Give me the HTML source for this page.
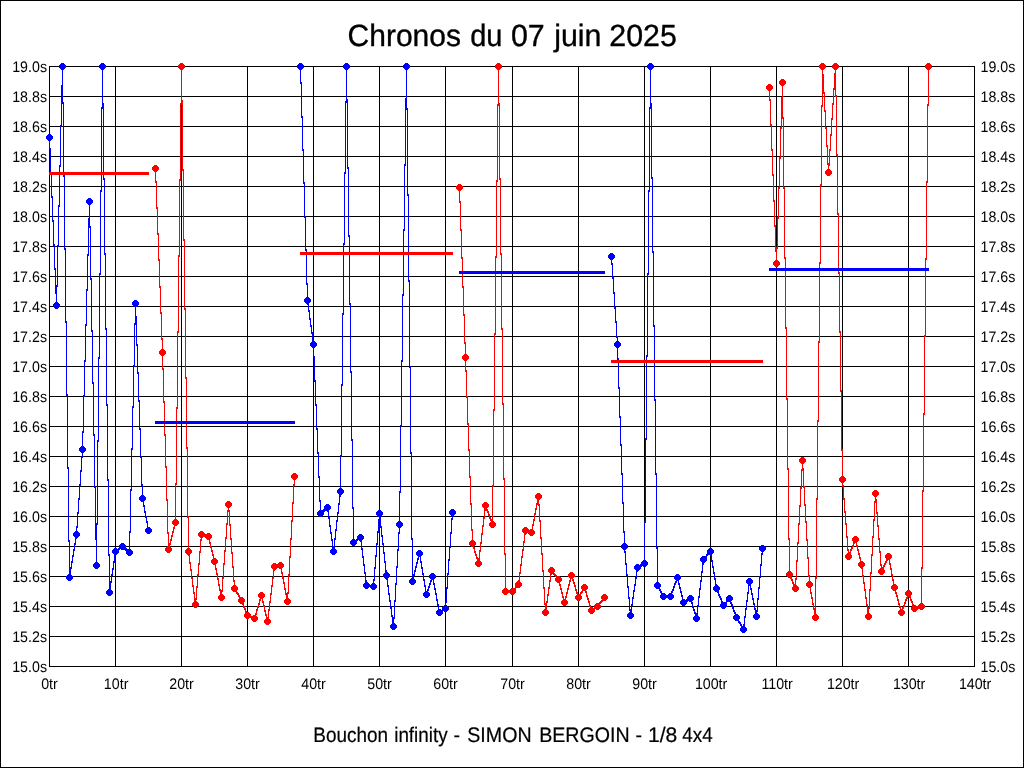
<!DOCTYPE html>
<html lang="fr">
<head>
<meta charset="utf-8">
<title>Chronos du 07 juin 2025</title>
<style>
html,body{margin:0;padding:0;background:#fff;}
body{width:1024px;height:768px;overflow:hidden;}
svg{display:block;position:absolute;left:0;top:0;}
text{font-family:"Liberation Sans",Arial,Helvetica,sans-serif;fill:#000;}
.t{font-size:30.67px;stroke:#000;stroke-width:0.35px;}
.c{font-size:21.0px;stroke:#000;stroke-width:0.2px;}
.a{font-size:15.3px;}
</style>
</head>
<body>
<svg width="1024" height="768" viewBox="0 0 1024 768" shape-rendering="crispEdges">
<rect x="0" y="0" width="1024" height="768" fill="#fff"/>
<path fill="#000" d="M0 0h1024v768h-1024zM1 1v766h1022v-766z" fill-rule="evenodd"/>
<path fill="#000" d="M49 66h926v1h-926zM49 96h926v1h-926zM49 126h926v1h-926zM49 156h926v1h-926zM49 186h926v1h-926zM49 216h926v1h-926zM49 246h926v1h-926zM49 276h926v1h-926zM49 306h926v1h-926zM49 336h926v1h-926zM49 366h926v1h-926zM49 396h926v1h-926zM49 426h926v1h-926zM49 456h926v1h-926zM49 486h926v1h-926zM49 516h926v1h-926zM49 546h926v1h-926zM49 576h926v1h-926zM49 606h926v1h-926zM49 636h926v1h-926zM49 666h926v1h-926zM49 66h1v601h-1zM115 66h1v601h-1zM181 66h1v601h-1zM247 66h1v601h-1zM313 66h1v601h-1zM379 66h1v601h-1zM445 66h1v601h-1zM512 66h1v601h-1zM578 66h1v601h-1zM644 66h1v601h-1zM710 66h1v601h-1zM776 66h1v601h-1zM842 66h1v601h-1zM908 66h1v601h-1zM974 66h1v601h-1z"/>
<path fill="#0000ff" d="M49 136v14h1v-14zM50 148v26h1v-26zM51 172v26h1v-26zM52 196v26h1v-26zM53 220v26h1v-26zM54 244v26h1v-26zM55 268v26h1v-26zM56 285v22h1v-22zM57 245v42h1v-42zM58 205v42h1v-42zM59 165v42h1v-42zM60 125v42h1v-42zM61 85v42h1v-42zM62 65v39h1v-39zM63 102v75h1v-75zM64 175v75h1v-75zM65 248v75h1v-75zM66 321v75h1v-75zM67 394v75h1v-75zM68 467v75h1v-75zM69 540v39h1v-39zM70 567v8h1v-8zM71 561v8h1v-8zM72 555v8h1v-8zM73 549v8h1v-8zM74 543v8h1v-8zM75 537v8h1v-8zM76 526v13h1v-13zM77 512v16h1v-16zM78 498v16h1v-16zM79 484v16h1v-16zM80 470v16h1v-16zM81 456v16h1v-16zM82 431v27h1v-27zM83 395v38h1v-38zM84 360v37h1v-37zM85 324v38h1v-38zM86 289v37h1v-37zM87 254v37h1v-37zM88 218v38h1v-38zM89 200v28h1v-28zM90 226v54h1v-54zM91 278v54h1v-54zM92 330v54h1v-54zM93 382v54h1v-54zM94 434v54h1v-54zM95 486v54h1v-54zM96 523v44h1v-44zM97 440v85h1v-85zM98 357v85h1v-85zM99 273v86h1v-86zM100 190v85h1v-85zM101 107v85h1v-85zM102 65v44h1v-44zM103 103v77h1v-77zM104 178v77h1v-77zM105 253v77h1v-77zM106 328v78h1v-78zM107 404v77h1v-77zM108 479v77h1v-77zM109 554v40h1v-40zM110 581v9h1v-9zM111 574v9h1v-9zM112 568v8h1v-8zM113 561v9h1v-9zM114 554v9h1v-9zM115 550v6h1v-6zM116 549v3h1v-3zM117 549v3h1v-3zM118 548v3h1v-3zM119 547v3h1v-3zM120 546v3h1v-3zM121 546v3h1v-3zM122 545v3h1v-3zM123 546v3h1v-3zM124 547v3h1v-3zM125 548v3h1v-3zM126 548v3h1v-3zM127 549v3h1v-3zM128 550v3h1v-3zM129 531v23h1v-23zM130 489v44h1v-44zM131 448v43h1v-43zM132 406v44h1v-44zM133 365v43h1v-43zM134 323v44h1v-44zM135 302v23h1v-23zM136 316v30h1v-30zM137 344v30h1v-30zM138 372v30h1v-30zM139 400v30h1v-30zM140 428v30h1v-30zM141 456v30h1v-30zM142 484v18h1v-18zM143 500v7h1v-7zM144 505v8h1v-8zM145 511v7h1v-7zM146 516v7h1v-7zM147 521v8h1v-8zM148 527v5h1v-5z"/>
<path fill="#ff0000" d="M155 167v16h1v-16zM156 181v28h1v-28zM157 207v28h1v-28zM158 233v28h1v-28zM159 259v29h1v-29zM160 286v28h1v-28zM161 312v28h1v-28zM162 338v32h1v-32zM163 368v35h1v-35zM164 401v35h1v-35zM165 434v34h1v-34zM166 466v35h1v-35zM167 499v35h1v-35zM168 532v19h1v-19zM169 543v6h1v-6zM170 539v6h1v-6zM171 535v6h1v-6zM172 531v6h1v-6zM173 527v6h1v-6zM174 523v6h1v-6zM175 483v42h1v-42zM176 407v78h1v-78zM177 331v78h1v-78zM178 255v78h1v-78zM179 179v78h1v-78zM180 103v78h1v-78zM181 65v40h1v-40zM182 100v71h1v-71zM183 169v72h1v-72zM184 239v71h1v-71zM185 308v71h1v-71zM186 377v72h1v-72zM187 447v71h1v-71zM188 516v40h1v-40zM189 554v10h1v-10zM190 562v9h1v-9zM191 569v10h1v-10zM192 577v10h1v-10zM193 585v9h1v-9zM194 592v10h1v-10zM195 598v8h1v-8zM196 586v14h1v-14zM197 574v14h1v-14zM198 563v13h1v-13zM199 551v14h1v-14zM200 539v14h1v-14zM201 533v8h1v-8zM202 533v3h1v-3zM203 534v3h1v-3zM204 534v3h1v-3zM205 534v3h1v-3zM206 534v3h1v-3zM207 535v3h1v-3zM208 535v5h1v-5zM209 538v6h1v-6zM210 542v6h1v-6zM211 546v6h1v-6zM212 550v6h1v-6zM213 554v6h1v-6zM214 558v7h1v-7zM215 563v7h1v-7zM216 568v7h1v-7zM217 573v7h1v-7zM218 578v8h1v-8zM219 584v7h1v-7zM220 589v7h1v-7zM221 590v9h1v-9zM222 577v15h1v-15zM223 563v16h1v-16zM224 550v15h1v-15zM225 537v15h1v-15zM226 523v16h1v-16zM227 510v15h1v-15zM228 503v9h1v-9zM229 510v16h1v-16zM230 524v16h1v-16zM231 538v16h1v-16zM232 552v16h1v-16zM233 566v16h1v-16zM234 580v10h1v-10zM235 588v4h1v-4zM236 590v4h1v-4zM237 592v3h1v-3zM238 593v4h1v-4zM239 595v4h1v-4zM240 597v4h1v-4zM241 599v4h1v-4zM242 601v4h1v-4zM243 603v5h1v-5zM244 606v4h1v-4zM245 608v5h1v-5zM246 611v4h1v-4zM247 613v4h1v-4zM248 614v3h1v-3zM249 615v3h1v-3zM250 615v3h1v-3zM251 616v3h1v-3zM252 616v3h1v-3zM253 617v3h1v-3zM254 616v4h1v-4zM255 613v5h1v-5zM256 609v6h1v-6zM257 606v5h1v-5zM258 603v5h1v-5zM259 599v6h1v-6zM260 596v5h1v-5zM261 594v5h1v-5zM262 597v6h1v-6zM263 601v6h1v-6zM264 605v7h1v-7zM265 610v6h1v-6zM266 614v6h1v-6zM267 617v6h1v-6zM268 609v10h1v-10zM269 601v10h1v-10zM270 593v10h1v-10zM271 585v10h1v-10zM272 577v10h1v-10zM273 569v10h1v-10zM274 565v6h1v-6zM275 565v3h1v-3zM276 565v3h1v-3zM277 564v3h1v-3zM278 564v3h1v-3zM279 564v3h1v-3zM280 564v5h1v-5zM281 567v7h1v-7zM282 572v7h1v-7zM283 577v7h1v-7zM284 582v8h1v-8zM285 588v7h1v-7zM286 593v7h1v-7zM287 592v11h1v-11zM288 574v20h1v-20zM289 556v20h1v-20zM290 538v20h1v-20zM291 520v20h1v-20zM292 502v20h1v-20zM293 484v20h1v-20zM294 475v11h1v-11z"/>
<path fill="#0000ff" d="M300 65v19h1v-19zM301 82v36h1v-36zM302 116v35h1v-35zM303 149v35h1v-35zM304 182v36h1v-36zM305 216v35h1v-35zM306 249v36h1v-36zM307 283v22h1v-22zM308 303v9h1v-9zM309 310v10h1v-10zM310 318v9h1v-9zM311 325v9h1v-9zM312 332v10h1v-10zM313 340v18h1v-18zM314 356v26h1v-26zM315 380v26h1v-26zM316 404v26h1v-26zM317 428v26h1v-26zM318 452v26h1v-26zM319 476v26h1v-26zM320 500v15h1v-15zM321 511v3h1v-3zM322 510v3h1v-3zM323 509v3h1v-3zM324 509v3h1v-3zM325 508v3h1v-3zM326 507v3h1v-3zM327 506v6h1v-6zM328 510v9h1v-9zM329 517v10h1v-10zM330 525v9h1v-9zM331 532v9h1v-9zM332 539v10h1v-10zM333 546v7h1v-7zM334 538v10h1v-10zM335 529v11h1v-11zM336 520v11h1v-11zM337 512v10h1v-10zM338 503v11h1v-11zM339 495v10h1v-10zM340 455v42h1v-42zM341 384v73h1v-73zM342 313v73h1v-73zM343 243v72h1v-72zM344 172v73h1v-73zM345 101v73h1v-73zM346 65v38h1v-38zM347 99v70h1v-70zM348 167v70h1v-70zM349 235v70h1v-70zM350 303v70h1v-70zM351 371v70h1v-70zM352 439v70h1v-70zM353 507v37h1v-37zM354 540v3h1v-3zM355 540v3h1v-3zM356 539v3h1v-3zM357 538v3h1v-3zM358 537v3h1v-3zM359 537v3h1v-3zM360 536v6h1v-6zM361 540v10h1v-10zM362 548v10h1v-10zM363 556v10h1v-10zM364 564v10h1v-10zM365 572v10h1v-10zM366 580v7h1v-7zM367 584v3h1v-3zM368 584v3h1v-3zM369 584v3h1v-3zM370 585v3h1v-3zM371 585v3h1v-3zM372 585v3h1v-3zM373 579v9h1v-9zM374 567v14h1v-14zM375 555v14h1v-14zM376 543v14h1v-14zM377 531v14h1v-14zM378 519v14h1v-14zM379 512v9h1v-9zM380 517v11h1v-11zM381 526v11h1v-11zM382 535v10h1v-10zM383 543v11h1v-11zM384 552v11h1v-11zM385 561v11h1v-11zM386 570v10h1v-10zM387 578v9h1v-9zM388 585v10h1v-10zM389 593v9h1v-9zM390 600v9h1v-9zM391 607v10h1v-10zM392 615v9h1v-9zM393 617v11h1v-11zM394 600v19h1v-19zM395 583v19h1v-19zM396 566v19h1v-19zM397 549v19h1v-19zM398 532v19h1v-19zM399 491v43h1v-43zM400 425v68h1v-68zM401 360v67h1v-67zM402 294v68h1v-68zM403 229v67h1v-67zM404 164v67h1v-67zM405 98v68h1v-68zM406 65v45h1v-45zM407 108v88h1v-88zM408 194v88h1v-88zM409 280v88h1v-88zM410 366v88h1v-88zM411 452v88h1v-88zM412 538v45h1v-45zM413 574v6h1v-6zM414 570v6h1v-6zM415 566v6h1v-6zM416 562v6h1v-6zM417 558v6h1v-6zM418 554v6h1v-6zM419 552v5h1v-5zM420 555v8h1v-8zM421 561v8h1v-8zM422 567v8h1v-8zM423 573v8h1v-8zM424 579v8h1v-8zM425 585v8h1v-8zM426 591v5h1v-5zM427 589v5h1v-5zM428 586v5h1v-5zM429 583v5h1v-5zM430 580v5h1v-5zM431 577v5h1v-5zM432 575v5h1v-5zM433 578v7h1v-7zM434 583v7h1v-7zM435 588v7h1v-7zM436 593v8h1v-8zM437 599v7h1v-7zM438 604v7h1v-7zM439 609v5h1v-5zM440 610v3h1v-3zM441 610v3h1v-3zM442 609v3h1v-3zM443 608v3h1v-3zM444 608v3h1v-3zM445 601v9h1v-9zM446 587v16h1v-16zM447 573v16h1v-16zM448 559v16h1v-16zM449 546v15h1v-15zM450 532v16h1v-16zM451 518v16h1v-16zM452 511v9h1v-9z"/>
<path fill="#ff0000" d="M459 186v17h1v-17zM460 201v30h1v-30zM461 229v30h1v-30zM462 257v31h1v-31zM463 286v30h1v-30zM464 314v30h1v-30zM465 342v30h1v-30zM466 370v28h1v-28zM467 396v29h1v-29zM468 423v28h1v-28zM469 449v29h1v-29zM470 476v29h1v-29zM471 503v28h1v-28zM472 529v17h1v-17zM473 544v5h1v-5zM474 547v6h1v-6zM475 551v5h1v-5zM476 554v5h1v-5zM477 557v6h1v-6zM478 558v7h1v-7zM479 550v10h1v-10zM480 542v10h1v-10zM481 533v11h1v-11zM482 525v10h1v-10zM483 517v10h1v-10zM484 509v10h1v-10zM485 504v7h1v-7zM486 506v5h1v-5zM487 509v4h1v-4zM488 511v5h1v-5zM489 514v5h1v-5zM490 517v4h1v-4zM491 519v5h1v-5zM492 485v41h1v-41zM493 409v78h1v-78zM494 333v78h1v-78zM495 256v79h1v-79zM496 180v78h1v-78zM497 104v78h1v-78zM498 65v41h1v-41zM499 103v77h1v-77zM500 178v77h1v-77zM501 253v77h1v-77zM502 328v77h1v-77zM503 403v77h1v-77zM504 478v77h1v-77zM505 553v40h1v-40zM506 590v3h1v-3zM507 590v3h1v-3zM508 590v3h1v-3zM509 590v3h1v-3zM510 590v3h1v-3zM511 590v3h1v-3zM512 590v3h1v-3zM513 589v3h1v-3zM514 588v3h1v-3zM515 586v4h1v-4zM516 585v3h1v-3zM517 584v3h1v-3zM518 580v6h1v-6zM519 572v10h1v-10zM520 564v10h1v-10zM521 556v10h1v-10zM522 549v9h1v-9zM523 541v10h1v-10zM524 533v10h1v-10zM525 529v6h1v-6zM526 529v3h1v-3zM527 530v3h1v-3zM528 530v3h1v-3zM529 530v3h1v-3zM530 531v3h1v-3zM531 529v5h1v-5zM532 524v7h1v-7zM533 519v7h1v-7zM534 513v8h1v-8zM535 508v7h1v-7zM536 503v7h1v-7zM537 498v7h1v-7zM538 495v11h1v-11zM539 504v18h1v-18zM540 520v19h1v-19zM541 537v18h1v-18zM542 553v19h1v-19zM543 570v19h1v-19zM544 587v18h1v-18zM545 603v11h1v-11zM546 601v9h1v-9zM547 594v9h1v-9zM548 587v9h1v-9zM549 580v9h1v-9zM550 573v9h1v-9zM551 569v6h1v-6zM552 570v3h1v-3zM553 571v4h1v-4zM554 573v3h1v-3zM555 574v3h1v-3zM556 575v4h1v-4zM557 577v3h1v-3zM558 578v4h1v-4zM559 580v6h1v-6zM560 584v6h1v-6zM561 588v6h1v-6zM562 592v6h1v-6zM563 596v6h1v-6zM564 600v4h1v-4zM565 596v6h1v-6zM566 592v6h1v-6zM567 588v6h1v-6zM568 584v6h1v-6zM569 580v6h1v-6zM570 576v6h1v-6zM571 574v4h1v-4zM572 576v5h1v-5zM573 579v5h1v-5zM574 582v5h1v-5zM575 585v6h1v-6zM576 589v5h1v-5zM577 592v5h1v-5zM578 595v4h1v-4zM579 594v4h1v-4zM580 592v4h1v-4zM581 591v3h1v-3zM582 589v4h1v-4zM583 587v4h1v-4zM584 586v4h1v-4zM585 588v5h1v-5zM586 591v6h1v-6zM587 595v5h1v-5zM588 598v5h1v-5zM589 601v6h1v-6zM590 605v5h1v-5zM591 608v4h1v-4zM592 608v3h1v-3zM593 608v3h1v-3zM594 607v3h1v-3zM595 606v3h1v-3zM596 606v3h1v-3zM597 605v3h1v-3zM598 604v3h1v-3zM599 602v4h1v-4zM600 601v3h1v-3zM601 600v3h1v-3zM602 598v4h1v-4zM603 597v3h1v-3zM604 596v3h1v-3z"/>
<path fill="#0000ff" d="M611 255v10h1v-10zM612 263v16h1v-16zM613 277v17h1v-17zM614 292v17h1v-17zM615 307v16h1v-16zM616 321v17h1v-17zM617 336v24h1v-24zM618 358v31h1v-31zM619 387v31h1v-31zM620 416v30h1v-30zM621 444v31h1v-31zM622 473v31h1v-31zM623 502v31h1v-31zM624 531v22h1v-22zM625 551v14h1v-14zM626 563v13h1v-13zM627 574v14h1v-14zM628 586v13h1v-13zM629 597v14h1v-14zM630 609v8h1v-8zM631 604v9h1v-9zM632 597v9h1v-9zM633 590v9h1v-9zM634 584v8h1v-8zM635 577v9h1v-9zM636 570v9h1v-9zM637 566v6h1v-6zM638 565v3h1v-3zM639 565v3h1v-3zM640 564v3h1v-3zM641 564v3h1v-3zM642 563v3h1v-3zM643 563v3h1v-3zM644 521v44h1v-44zM645 438v85h1v-85zM646 355v85h1v-85zM647 273v84h1v-84zM648 190v85h1v-85zM649 107v85h1v-85zM650 65v44h1v-44zM651 103v76h1v-76zM652 177v76h1v-76zM653 251v76h1v-76zM654 325v76h1v-76zM655 399v76h1v-76zM656 473v76h1v-76zM657 547v40h1v-40zM658 585v4h1v-4zM659 587v4h1v-4zM660 589v4h1v-4zM661 591v4h1v-4zM662 593v4h1v-4zM663 595v3h1v-3zM664 595v3h1v-3zM665 595v3h1v-3zM666 595v3h1v-3zM667 595v3h1v-3zM668 595v3h1v-3zM669 595v3h1v-3zM670 594v4h1v-4zM671 591v5h1v-5zM672 589v4h1v-4zM673 586v5h1v-5zM674 583v5h1v-5zM675 581v4h1v-4zM676 578v5h1v-5zM677 576v5h1v-5zM678 579v6h1v-6zM679 583v6h1v-6zM680 587v6h1v-6zM681 591v6h1v-6zM682 595v6h1v-6zM683 599v5h1v-5zM684 600v3h1v-3zM685 600v3h1v-3zM686 599v3h1v-3zM687 599v3h1v-3zM688 598v3h1v-3zM689 598v3h1v-3zM690 597v4h1v-4zM691 599v5h1v-5zM692 602v6h1v-6zM693 606v5h1v-5zM694 609v5h1v-5zM695 612v6h1v-6zM696 613v7h1v-7zM697 605v10h1v-10zM698 596v11h1v-11zM699 588v10h1v-10zM700 580v10h1v-10zM701 571v11h1v-11zM702 563v10h1v-10zM703 558v7h1v-7zM704 557v3h1v-3zM705 556v3h1v-3zM706 554v4h1v-4zM707 553v3h1v-3zM708 552v3h1v-3zM709 551v3h1v-3zM710 550v6h1v-6zM711 554v8h1v-8zM712 560v8h1v-8zM713 566v8h1v-8zM714 572v8h1v-8zM715 578v8h1v-8zM716 584v7h1v-7zM717 589v4h1v-4zM718 591v5h1v-5zM719 594v4h1v-4zM720 596v4h1v-4zM721 598v5h1v-5zM722 601v4h1v-4zM723 603v4h1v-4zM724 603v3h1v-3zM725 602v3h1v-3zM726 600v4h1v-4zM727 599v3h1v-3zM728 598v3h1v-3zM729 597v4h1v-4zM730 599v5h1v-5zM731 602v4h1v-4zM732 604v5h1v-5zM733 607v5h1v-5zM734 610v4h1v-4zM735 612v5h1v-5zM736 615v4h1v-4zM737 617v4h1v-4zM738 619v4h1v-4zM739 621v3h1v-3zM740 622v4h1v-4zM741 624v4h1v-4zM742 626v4h1v-4zM743 624v7h1v-7zM744 616v10h1v-10zM745 608v10h1v-10zM746 600v10h1v-10zM747 592v10h1v-10zM748 584v10h1v-10zM749 580v6h1v-6zM750 583v7h1v-7zM751 588v7h1v-7zM752 593v7h1v-7zM753 598v7h1v-7zM754 603v7h1v-7zM755 608v7h1v-7zM756 610v8h1v-8zM757 598v14h1v-14zM758 587v13h1v-13zM759 576v13h1v-13zM760 564v14h1v-14zM761 553v13h1v-13zM762 547v8h1v-8z"/>
<path fill="#ff0000" d="M769 86v15h1v-15zM770 99v27h1v-27zM771 124v27h1v-27zM772 149v27h1v-27zM773 174v28h1v-28zM774 200v27h1v-27zM775 225v27h1v-27zM776 247v18h1v-18zM777 217v32h1v-32zM778 187v32h1v-32zM779 157v32h1v-32zM780 127v32h1v-32zM781 97v32h1v-32zM782 81v38h1v-38zM783 117v72h1v-72zM784 187v72h1v-72zM785 257v72h1v-72zM786 327v73h1v-73zM787 398v72h1v-72zM788 468v72h1v-72zM789 538v39h1v-39zM790 575v4h1v-4zM791 577v4h1v-4zM792 579v5h1v-5zM793 582v4h1v-4zM794 584v4h1v-4zM795 578v12h1v-12zM796 560v20h1v-20zM797 542v20h1v-20zM798 523v21h1v-21zM799 505v20h1v-20zM800 487v20h1v-20zM801 469v20h1v-20zM802 459v12h1v-12zM803 468v20h1v-20zM804 486v20h1v-20zM805 504v19h1v-19zM806 521v20h1v-20zM807 539v20h1v-20zM808 557v20h1v-20zM809 575v13h1v-13zM810 586v8h1v-8zM811 592v7h1v-7zM812 597v8h1v-8zM813 603v7h1v-7zM814 608v8h1v-8zM815 577v42h1v-42zM816 498v81h1v-81zM817 420v80h1v-80zM818 341v81h1v-81zM819 262v81h1v-81zM820 184v80h1v-80zM821 105v81h1v-81zM822 65v42h1v-42zM823 74v20h1v-20zM824 92v20h1v-20zM825 110v19h1v-19zM826 127v20h1v-20zM827 145v20h1v-20zM828 163v11h1v-11zM829 149v17h1v-17zM830 134v17h1v-17zM831 118v18h1v-18zM832 103v17h1v-17zM833 88v17h1v-17zM834 73v17h1v-17zM835 65v32h1v-32zM836 95v61h1v-61zM837 154v61h1v-61zM838 213v61h1v-61zM839 272v61h1v-61zM840 331v61h1v-61zM841 390v61h1v-61zM842 449v38h1v-38zM843 485v15h1v-15zM844 498v15h1v-15zM845 511v14h1v-14zM846 523v15h1v-15zM847 536v15h1v-15zM848 549v9h1v-9zM849 552v4h1v-4zM850 549v5h1v-5zM851 547v4h1v-4zM852 545v4h1v-4zM853 542v5h1v-5zM854 540v4h1v-4zM855 538v5h1v-5zM856 541v6h1v-6zM857 545v6h1v-6zM858 549v6h1v-6zM859 553v6h1v-6zM860 557v6h1v-6zM861 561v8h1v-8zM862 567v10h1v-10zM863 575v9h1v-9zM864 582v9h1v-9zM865 589v10h1v-10zM866 597v9h1v-9zM867 604v10h1v-10zM868 607v11h1v-11zM869 589v20h1v-20zM870 572v19h1v-19zM871 554v20h1v-20zM872 536v20h1v-20zM873 519v19h1v-19zM874 501v20h1v-20zM875 492v11h1v-11zM876 499v15h1v-15zM877 512v15h1v-15zM878 525v15h1v-15zM879 538v15h1v-15zM880 551v15h1v-15zM881 564v9h1v-9zM882 567v4h1v-4zM883 565v4h1v-4zM884 563v4h1v-4zM885 561v4h1v-4zM886 559v4h1v-4zM887 557v4h1v-4zM888 555v5h1v-5zM889 558v7h1v-7zM890 563v7h1v-7zM891 568v8h1v-8zM892 574v7h1v-7zM893 579v7h1v-7zM894 584v6h1v-6zM895 588v6h1v-6zM896 592v5h1v-5zM897 595v6h1v-6zM898 599v6h1v-6zM899 603v5h1v-5zM900 606v6h1v-6zM901 610v4h1v-4zM902 607v5h1v-5zM903 605v4h1v-4zM904 602v5h1v-5zM905 599v5h1v-5zM906 597v4h1v-4zM907 594v5h1v-5zM908 592v4h1v-4zM909 594v4h1v-4zM910 596v5h1v-5zM911 599v4h1v-4zM912 601v5h1v-5zM913 604v4h1v-4zM914 606v4h1v-4zM915 607v3h1v-3zM916 606v3h1v-3zM917 606v3h1v-3zM918 606v3h1v-3zM919 606v3h1v-3zM920 605v3h1v-3zM921 567v41h1v-41zM922 490v79h1v-79zM923 413v79h1v-79zM924 335v80h1v-80zM925 258v79h1v-79zM926 181v79h1v-79zM927 104v79h1v-79zM928 65v41h1v-41z"/>
<path fill="#0000ff" d="M48 134h3v1h1v1h1v3h-1v1h-1v1h-3v-1h-1v-1h-1v-3h1v-1h1zM55 302h3v1h1v1h1v3h-1v1h-1v1h-3v-1h-1v-1h-1v-3h1v-1h1zM61 63h3v1h1v1h1v3h-1v1h-1v1h-3v-1h-1v-1h-1v-3h1v-1h1zM68 574h3v1h1v1h1v3h-1v1h-1v1h-3v-1h-1v-1h-1v-3h1v-1h1zM75 531h3v1h1v1h1v3h-1v1h-1v1h-3v-1h-1v-1h-1v-3h1v-1h1zM81 446h3v1h1v1h1v3h-1v1h-1v1h-3v-1h-1v-1h-1v-3h1v-1h1zM88 198h3v1h1v1h1v3h-1v1h-1v1h-3v-1h-1v-1h-1v-3h1v-1h1zM95 562h3v1h1v1h1v3h-1v1h-1v1h-3v-1h-1v-1h-1v-3h1v-1h1zM101 63h3v1h1v1h1v3h-1v1h-1v1h-3v-1h-1v-1h-1v-3h1v-1h1zM108 589h3v1h1v1h1v3h-1v1h-1v1h-3v-1h-1v-1h-1v-3h1v-1h1zM114 548h3v1h1v1h1v3h-1v1h-1v1h-3v-1h-1v-1h-1v-3h1v-1h1zM121 543h3v1h1v1h1v3h-1v1h-1v1h-3v-1h-1v-1h-1v-3h1v-1h1zM128 549h3v1h1v1h1v3h-1v1h-1v1h-3v-1h-1v-1h-1v-3h1v-1h1zM134 300h3v1h1v1h1v3h-1v1h-1v1h-3v-1h-1v-1h-1v-3h1v-1h1zM141 495h3v1h1v1h1v3h-1v1h-1v1h-3v-1h-1v-1h-1v-3h1v-1h1zM147 527h3v1h1v1h1v3h-1v1h-1v1h-3v-1h-1v-1h-1v-3h1v-1h1z"/>
<path fill="#ff0000" d="M154 165h3v1h1v1h1v3h-1v1h-1v1h-3v-1h-1v-1h-1v-3h1v-1h1zM161 349h3v1h1v1h1v3h-1v1h-1v1h-3v-1h-1v-1h-1v-3h1v-1h1zM167 546h3v1h1v1h1v3h-1v1h-1v1h-3v-1h-1v-1h-1v-3h1v-1h1zM174 519h3v1h1v1h1v3h-1v1h-1v1h-3v-1h-1v-1h-1v-3h1v-1h1zM180 63h3v1h1v1h1v3h-1v1h-1v1h-3v-1h-1v-1h-1v-3h1v-1h1zM187 548h3v1h1v1h1v3h-1v1h-1v1h-3v-1h-1v-1h-1v-3h1v-1h1zM194 601h3v1h1v1h1v3h-1v1h-1v1h-3v-1h-1v-1h-1v-3h1v-1h1zM200 531h3v1h1v1h1v3h-1v1h-1v1h-3v-1h-1v-1h-1v-3h1v-1h1zM207 533h3v1h1v1h1v3h-1v1h-1v1h-3v-1h-1v-1h-1v-3h1v-1h1zM213 558h3v1h1v1h1v3h-1v1h-1v1h-3v-1h-1v-1h-1v-3h1v-1h1zM220 594h3v1h1v1h1v3h-1v1h-1v1h-3v-1h-1v-1h-1v-3h1v-1h1zM227 501h3v1h1v1h1v3h-1v1h-1v1h-3v-1h-1v-1h-1v-3h1v-1h1zM233 585h3v1h1v1h1v3h-1v1h-1v1h-3v-1h-1v-1h-1v-3h1v-1h1zM240 597h3v1h1v1h1v3h-1v1h-1v1h-3v-1h-1v-1h-1v-3h1v-1h1zM246 612h3v1h1v1h1v3h-1v1h-1v1h-3v-1h-1v-1h-1v-3h1v-1h1zM253 615h3v1h1v1h1v3h-1v1h-1v1h-3v-1h-1v-1h-1v-3h1v-1h1zM260 592h3v1h1v1h1v3h-1v1h-1v1h-3v-1h-1v-1h-1v-3h1v-1h1zM266 618h3v1h1v1h1v3h-1v1h-1v1h-3v-1h-1v-1h-1v-3h1v-1h1zM273 563h3v1h1v1h1v3h-1v1h-1v1h-3v-1h-1v-1h-1v-3h1v-1h1zM279 562h3v1h1v1h1v3h-1v1h-1v1h-3v-1h-1v-1h-1v-3h1v-1h1zM286 598h3v1h1v1h1v3h-1v1h-1v1h-3v-1h-1v-1h-1v-3h1v-1h1zM293 473h3v1h1v1h1v3h-1v1h-1v1h-3v-1h-1v-1h-1v-3h1v-1h1z"/>
<path fill="#0000ff" d="M299 63h3v1h1v1h1v3h-1v1h-1v1h-3v-1h-1v-1h-1v-3h1v-1h1zM306 297h3v1h1v1h1v3h-1v1h-1v1h-3v-1h-1v-1h-1v-3h1v-1h1zM312 341h3v1h1v1h1v3h-1v1h-1v1h-3v-1h-1v-1h-1v-3h1v-1h1zM319 510h3v1h1v1h1v3h-1v1h-1v1h-3v-1h-1v-1h-1v-3h1v-1h1zM326 504h3v1h1v1h1v3h-1v1h-1v1h-3v-1h-1v-1h-1v-3h1v-1h1zM332 548h3v1h1v1h1v3h-1v1h-1v1h-3v-1h-1v-1h-1v-3h1v-1h1zM339 488h3v1h1v1h1v3h-1v1h-1v1h-3v-1h-1v-1h-1v-3h1v-1h1zM345 63h3v1h1v1h1v3h-1v1h-1v1h-3v-1h-1v-1h-1v-3h1v-1h1zM352 539h3v1h1v1h1v3h-1v1h-1v1h-3v-1h-1v-1h-1v-3h1v-1h1zM359 534h3v1h1v1h1v3h-1v1h-1v1h-3v-1h-1v-1h-1v-3h1v-1h1zM365 582h3v1h1v1h1v3h-1v1h-1v1h-3v-1h-1v-1h-1v-3h1v-1h1zM372 583h3v1h1v1h1v3h-1v1h-1v1h-3v-1h-1v-1h-1v-3h1v-1h1zM378 510h3v1h1v1h1v3h-1v1h-1v1h-3v-1h-1v-1h-1v-3h1v-1h1zM385 572h3v1h1v1h1v3h-1v1h-1v1h-3v-1h-1v-1h-1v-3h1v-1h1zM392 623h3v1h1v1h1v3h-1v1h-1v1h-3v-1h-1v-1h-1v-3h1v-1h1zM398 521h3v1h1v1h1v3h-1v1h-1v1h-3v-1h-1v-1h-1v-3h1v-1h1zM405 63h3v1h1v1h1v3h-1v1h-1v1h-3v-1h-1v-1h-1v-3h1v-1h1zM411 578h3v1h1v1h1v3h-1v1h-1v1h-3v-1h-1v-1h-1v-3h1v-1h1zM418 550h3v1h1v1h1v3h-1v1h-1v1h-3v-1h-1v-1h-1v-3h1v-1h1zM425 591h3v1h1v1h1v3h-1v1h-1v1h-3v-1h-1v-1h-1v-3h1v-1h1zM431 573h3v1h1v1h1v3h-1v1h-1v1h-3v-1h-1v-1h-1v-3h1v-1h1zM438 609h3v1h1v1h1v3h-1v1h-1v1h-3v-1h-1v-1h-1v-3h1v-1h1zM444 605h3v1h1v1h1v3h-1v1h-1v1h-3v-1h-1v-1h-1v-3h1v-1h1zM451 509h3v1h1v1h1v3h-1v1h-1v1h-3v-1h-1v-1h-1v-3h1v-1h1z"/>
<path fill="#ff0000" d="M458 184h3v1h1v1h1v3h-1v1h-1v1h-3v-1h-1v-1h-1v-3h1v-1h1zM464 354h3v1h1v1h1v3h-1v1h-1v1h-3v-1h-1v-1h-1v-3h1v-1h1zM471 540h3v1h1v1h1v3h-1v1h-1v1h-3v-1h-1v-1h-1v-3h1v-1h1zM477 560h3v1h1v1h1v3h-1v1h-1v1h-3v-1h-1v-1h-1v-3h1v-1h1zM484 502h3v1h1v1h1v3h-1v1h-1v1h-3v-1h-1v-1h-1v-3h1v-1h1zM491 521h3v1h1v1h1v3h-1v1h-1v1h-3v-1h-1v-1h-1v-3h1v-1h1zM497 63h3v1h1v1h1v3h-1v1h-1v1h-3v-1h-1v-1h-1v-3h1v-1h1zM504 588h3v1h1v1h1v3h-1v1h-1v1h-3v-1h-1v-1h-1v-3h1v-1h1zM511 588h3v1h1v1h1v3h-1v1h-1v1h-3v-1h-1v-1h-1v-3h1v-1h1zM517 581h3v1h1v1h1v3h-1v1h-1v1h-3v-1h-1v-1h-1v-3h1v-1h1zM524 527h3v1h1v1h1v3h-1v1h-1v1h-3v-1h-1v-1h-1v-3h1v-1h1zM530 529h3v1h1v1h1v3h-1v1h-1v1h-3v-1h-1v-1h-1v-3h1v-1h1zM537 493h3v1h1v1h1v3h-1v1h-1v1h-3v-1h-1v-1h-1v-3h1v-1h1zM544 609h3v1h1v1h1v3h-1v1h-1v1h-3v-1h-1v-1h-1v-3h1v-1h1zM550 567h3v1h1v1h1v3h-1v1h-1v1h-3v-1h-1v-1h-1v-3h1v-1h1zM557 576h3v1h1v1h1v3h-1v1h-1v1h-3v-1h-1v-1h-1v-3h1v-1h1zM563 599h3v1h1v1h1v3h-1v1h-1v1h-3v-1h-1v-1h-1v-3h1v-1h1zM570 572h3v1h1v1h1v3h-1v1h-1v1h-3v-1h-1v-1h-1v-3h1v-1h1zM577 594h3v1h1v1h1v3h-1v1h-1v1h-3v-1h-1v-1h-1v-3h1v-1h1zM583 584h3v1h1v1h1v3h-1v1h-1v1h-3v-1h-1v-1h-1v-3h1v-1h1zM590 607h3v1h1v1h1v3h-1v1h-1v1h-3v-1h-1v-1h-1v-3h1v-1h1zM596 603h3v1h1v1h1v3h-1v1h-1v1h-3v-1h-1v-1h-1v-3h1v-1h1zM603 594h3v1h1v1h1v3h-1v1h-1v1h-3v-1h-1v-1h-1v-3h1v-1h1z"/>
<path fill="#0000ff" d="M610 253h3v1h1v1h1v3h-1v1h-1v1h-3v-1h-1v-1h-1v-3h1v-1h1zM616 341h3v1h1v1h1v3h-1v1h-1v1h-3v-1h-1v-1h-1v-3h1v-1h1zM623 543h3v1h1v1h1v3h-1v1h-1v1h-3v-1h-1v-1h-1v-3h1v-1h1zM629 612h3v1h1v1h1v3h-1v1h-1v1h-3v-1h-1v-1h-1v-3h1v-1h1zM636 564h3v1h1v1h1v3h-1v1h-1v1h-3v-1h-1v-1h-1v-3h1v-1h1zM643 560h3v1h1v1h1v3h-1v1h-1v1h-3v-1h-1v-1h-1v-3h1v-1h1zM649 63h3v1h1v1h1v3h-1v1h-1v1h-3v-1h-1v-1h-1v-3h1v-1h1zM656 582h3v1h1v1h1v3h-1v1h-1v1h-3v-1h-1v-1h-1v-3h1v-1h1zM662 593h3v1h1v1h1v3h-1v1h-1v1h-3v-1h-1v-1h-1v-3h1v-1h1zM669 593h3v1h1v1h1v3h-1v1h-1v1h-3v-1h-1v-1h-1v-3h1v-1h1zM676 574h3v1h1v1h1v3h-1v1h-1v1h-3v-1h-1v-1h-1v-3h1v-1h1zM682 599h3v1h1v1h1v3h-1v1h-1v1h-3v-1h-1v-1h-1v-3h1v-1h1zM689 595h3v1h1v1h1v3h-1v1h-1v1h-3v-1h-1v-1h-1v-3h1v-1h1zM695 615h3v1h1v1h1v3h-1v1h-1v1h-3v-1h-1v-1h-1v-3h1v-1h1zM702 556h3v1h1v1h1v3h-1v1h-1v1h-3v-1h-1v-1h-1v-3h1v-1h1zM709 548h3v1h1v1h1v3h-1v1h-1v1h-3v-1h-1v-1h-1v-3h1v-1h1zM715 585h3v1h1v1h1v3h-1v1h-1v1h-3v-1h-1v-1h-1v-3h1v-1h1zM722 602h3v1h1v1h1v3h-1v1h-1v1h-3v-1h-1v-1h-1v-3h1v-1h1zM728 595h3v1h1v1h1v3h-1v1h-1v1h-3v-1h-1v-1h-1v-3h1v-1h1zM735 614h3v1h1v1h1v3h-1v1h-1v1h-3v-1h-1v-1h-1v-3h1v-1h1zM742 626h3v1h1v1h1v3h-1v1h-1v1h-3v-1h-1v-1h-1v-3h1v-1h1zM748 578h3v1h1v1h1v3h-1v1h-1v1h-3v-1h-1v-1h-1v-3h1v-1h1zM755 613h3v1h1v1h1v3h-1v1h-1v1h-3v-1h-1v-1h-1v-3h1v-1h1zM761 545h3v1h1v1h1v3h-1v1h-1v1h-3v-1h-1v-1h-1v-3h1v-1h1z"/>
<path fill="#ff0000" d="M768 84h3v1h1v1h1v3h-1v1h-1v1h-3v-1h-1v-1h-1v-3h1v-1h1zM775 260h3v1h1v1h1v3h-1v1h-1v1h-3v-1h-1v-1h-1v-3h1v-1h1zM781 79h3v1h1v1h1v3h-1v1h-1v1h-3v-1h-1v-1h-1v-3h1v-1h1zM788 571h3v1h1v1h1v3h-1v1h-1v1h-3v-1h-1v-1h-1v-3h1v-1h1zM794 585h3v1h1v1h1v3h-1v1h-1v1h-3v-1h-1v-1h-1v-3h1v-1h1zM801 457h3v1h1v1h1v3h-1v1h-1v1h-3v-1h-1v-1h-1v-3h1v-1h1zM808 581h3v1h1v1h1v3h-1v1h-1v1h-3v-1h-1v-1h-1v-3h1v-1h1zM814 614h3v1h1v1h1v3h-1v1h-1v1h-3v-1h-1v-1h-1v-3h1v-1h1zM821 63h3v1h1v1h1v3h-1v1h-1v1h-3v-1h-1v-1h-1v-3h1v-1h1zM827 169h3v1h1v1h1v3h-1v1h-1v1h-3v-1h-1v-1h-1v-3h1v-1h1zM834 63h3v1h1v1h1v3h-1v1h-1v1h-3v-1h-1v-1h-1v-3h1v-1h1zM841 476h3v1h1v1h1v3h-1v1h-1v1h-3v-1h-1v-1h-1v-3h1v-1h1zM847 553h3v1h1v1h1v3h-1v1h-1v1h-3v-1h-1v-1h-1v-3h1v-1h1zM854 536h3v1h1v1h1v3h-1v1h-1v1h-3v-1h-1v-1h-1v-3h1v-1h1zM860 561h3v1h1v1h1v3h-1v1h-1v1h-3v-1h-1v-1h-1v-3h1v-1h1zM867 613h3v1h1v1h1v3h-1v1h-1v1h-3v-1h-1v-1h-1v-3h1v-1h1zM874 490h3v1h1v1h1v3h-1v1h-1v1h-3v-1h-1v-1h-1v-3h1v-1h1zM880 568h3v1h1v1h1v3h-1v1h-1v1h-3v-1h-1v-1h-1v-3h1v-1h1zM887 553h3v1h1v1h1v3h-1v1h-1v1h-3v-1h-1v-1h-1v-3h1v-1h1zM893 584h3v1h1v1h1v3h-1v1h-1v1h-3v-1h-1v-1h-1v-3h1v-1h1zM900 609h3v1h1v1h1v3h-1v1h-1v1h-3v-1h-1v-1h-1v-3h1v-1h1zM907 590h3v1h1v1h1v3h-1v1h-1v1h-3v-1h-1v-1h-1v-3h1v-1h1zM913 605h3v1h1v1h1v3h-1v1h-1v1h-3v-1h-1v-1h-1v-3h1v-1h1zM920 603h3v1h1v1h1v3h-1v1h-1v1h-3v-1h-1v-1h-1v-3h1v-1h1zM927 63h3v1h1v1h1v3h-1v1h-1v1h-3v-1h-1v-1h-1v-3h1v-1h1z"/>
<rect x="49" y="172" width="100" height="3" fill="#ff0000"/>
<rect x="155" y="421" width="140" height="3" fill="#0000ff"/>
<rect x="300" y="252" width="153" height="3" fill="#ff0000"/>
<rect x="459" y="271" width="146" height="3" fill="#0000ff"/>
<rect x="611" y="360" width="152" height="3" fill="#ff0000"/>
<rect x="769" y="268" width="160" height="3" fill="#0000ff"/>
<g shape-rendering="auto" text-rendering="geometricPrecision">
<text class="t" transform="translate(0 46) scale(0.99 1)"><tspan x="351.11" textLength="114.50" lengthAdjust="spacingAndGlyphs">Chronos</tspan> <tspan x="474.95" textLength="32.60" lengthAdjust="spacingAndGlyphs">du</tspan> <tspan x="516.16">07</tspan> <tspan x="559.80">juin</tspan> <tspan x="615.45">2025</tspan></text>
<text class="c" transform="translate(0 742) scale(0.934 1)"><tspan x="335.44" textLength="80.00" lengthAdjust="spacingAndGlyphs">Bouchon</tspan> <tspan x="422.06" textLength="57.20" lengthAdjust="spacingAndGlyphs">infinity</tspan> <tspan x="485.55">-</tspan> <tspan x="500.32">SIMON</tspan> <tspan x="577.30">BERGOIN</tspan> <tspan x="680.41">-</tspan> <tspan x="693.79" textLength="31.40" lengthAdjust="spacingAndGlyphs">1/8</tspan> <tspan x="730.51" textLength="32.60" lengthAdjust="spacingAndGlyphs">4x4</tspan></text>
<text class="a" transform="translate(47 72) scale(0.93 1)" text-anchor="end">19.0s</text>
<text class="a" transform="translate(980.5 72) scale(0.93 1)">19.0s</text>
<text class="a" transform="translate(47 102) scale(0.93 1)" text-anchor="end">18.8s</text>
<text class="a" transform="translate(980.5 102) scale(0.93 1)">18.8s</text>
<text class="a" transform="translate(47 132) scale(0.93 1)" text-anchor="end">18.6s</text>
<text class="a" transform="translate(980.5 132) scale(0.93 1)">18.6s</text>
<text class="a" transform="translate(47 162) scale(0.93 1)" text-anchor="end">18.4s</text>
<text class="a" transform="translate(980.5 162) scale(0.93 1)">18.4s</text>
<text class="a" transform="translate(47 192) scale(0.93 1)" text-anchor="end">18.2s</text>
<text class="a" transform="translate(980.5 192) scale(0.93 1)">18.2s</text>
<text class="a" transform="translate(47 222) scale(0.93 1)" text-anchor="end">18.0s</text>
<text class="a" transform="translate(980.5 222) scale(0.93 1)">18.0s</text>
<text class="a" transform="translate(47 252) scale(0.93 1)" text-anchor="end">17.8s</text>
<text class="a" transform="translate(980.5 252) scale(0.93 1)">17.8s</text>
<text class="a" transform="translate(47 282) scale(0.93 1)" text-anchor="end">17.6s</text>
<text class="a" transform="translate(980.5 282) scale(0.93 1)">17.6s</text>
<text class="a" transform="translate(47 312) scale(0.93 1)" text-anchor="end">17.4s</text>
<text class="a" transform="translate(980.5 312) scale(0.93 1)">17.4s</text>
<text class="a" transform="translate(47 342) scale(0.93 1)" text-anchor="end">17.2s</text>
<text class="a" transform="translate(980.5 342) scale(0.93 1)">17.2s</text>
<text class="a" transform="translate(47 372) scale(0.93 1)" text-anchor="end">17.0s</text>
<text class="a" transform="translate(980.5 372) scale(0.93 1)">17.0s</text>
<text class="a" transform="translate(47 402) scale(0.93 1)" text-anchor="end">16.8s</text>
<text class="a" transform="translate(980.5 402) scale(0.93 1)">16.8s</text>
<text class="a" transform="translate(47 432) scale(0.93 1)" text-anchor="end">16.6s</text>
<text class="a" transform="translate(980.5 432) scale(0.93 1)">16.6s</text>
<text class="a" transform="translate(47 462) scale(0.93 1)" text-anchor="end">16.4s</text>
<text class="a" transform="translate(980.5 462) scale(0.93 1)">16.4s</text>
<text class="a" transform="translate(47 492) scale(0.93 1)" text-anchor="end">16.2s</text>
<text class="a" transform="translate(980.5 492) scale(0.93 1)">16.2s</text>
<text class="a" transform="translate(47 522) scale(0.93 1)" text-anchor="end">16.0s</text>
<text class="a" transform="translate(980.5 522) scale(0.93 1)">16.0s</text>
<text class="a" transform="translate(47 552) scale(0.93 1)" text-anchor="end">15.8s</text>
<text class="a" transform="translate(980.5 552) scale(0.93 1)">15.8s</text>
<text class="a" transform="translate(47 582) scale(0.93 1)" text-anchor="end">15.6s</text>
<text class="a" transform="translate(980.5 582) scale(0.93 1)">15.6s</text>
<text class="a" transform="translate(47 612) scale(0.93 1)" text-anchor="end">15.4s</text>
<text class="a" transform="translate(980.5 612) scale(0.93 1)">15.4s</text>
<text class="a" transform="translate(47 642) scale(0.93 1)" text-anchor="end">15.2s</text>
<text class="a" transform="translate(980.5 642) scale(0.93 1)">15.2s</text>
<text class="a" transform="translate(47 672) scale(0.93 1)" text-anchor="end">15.0s</text>
<text class="a" transform="translate(980.5 672) scale(0.93 1)">15.0s</text>
<text class="a" transform="translate(49.5 689) scale(0.93 1)" text-anchor="middle">0tr</text>
<text class="a" transform="translate(116.1 689) scale(0.93 1)" text-anchor="middle">10tr</text>
<text class="a" transform="translate(181.5 689) scale(0.93 1)" text-anchor="middle">20tr</text>
<text class="a" transform="translate(247.5 689) scale(0.93 1)" text-anchor="middle">30tr</text>
<text class="a" transform="translate(313.5 689) scale(0.93 1)" text-anchor="middle">40tr</text>
<text class="a" transform="translate(379.5 689) scale(0.93 1)" text-anchor="middle">50tr</text>
<text class="a" transform="translate(445.5 689) scale(0.93 1)" text-anchor="middle">60tr</text>
<text class="a" transform="translate(512.5 689) scale(0.93 1)" text-anchor="middle">70tr</text>
<text class="a" transform="translate(578.5 689) scale(0.93 1)" text-anchor="middle">80tr</text>
<text class="a" transform="translate(644.5 689) scale(0.93 1)" text-anchor="middle">90tr</text>
<text class="a" transform="translate(711.1 689) scale(0.93 1)" text-anchor="middle">100tr</text>
<text class="a" transform="translate(777.1 689) scale(0.93 1)" text-anchor="middle">110tr</text>
<text class="a" transform="translate(843.1 689) scale(0.93 1)" text-anchor="middle">120tr</text>
<text class="a" transform="translate(909.1 689) scale(0.93 1)" text-anchor="middle">130tr</text>
<text class="a" transform="translate(975.1 689) scale(0.93 1)" text-anchor="middle">140tr</text>
</g>
</svg>
</body>
</html>
